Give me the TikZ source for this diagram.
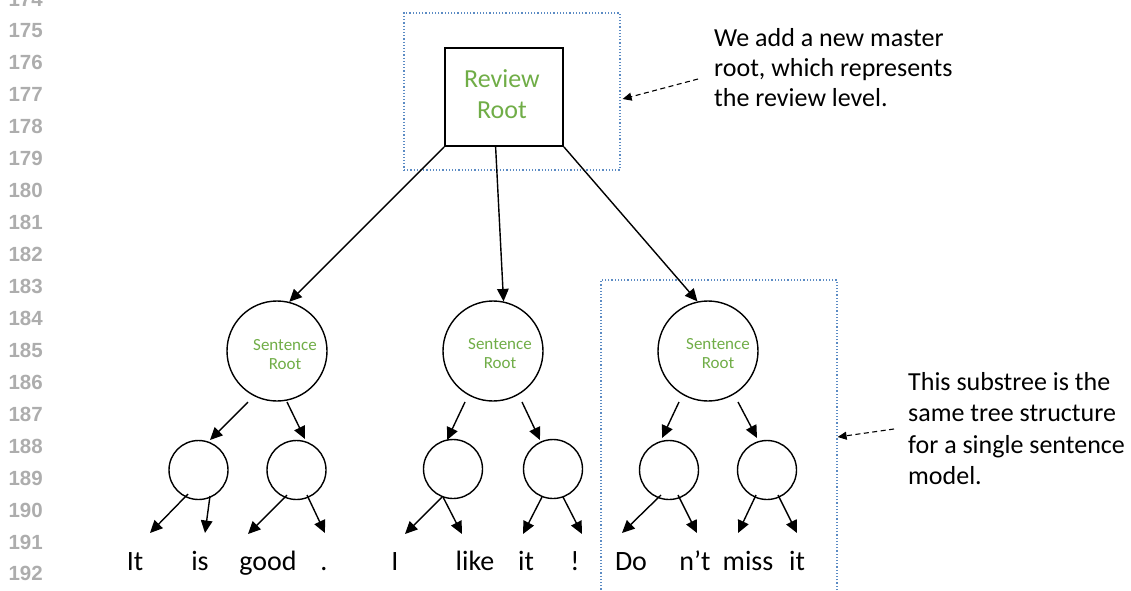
\documentclass[tikz,border=0pt]{standalone}
\usepackage{fontspec}
\setmainfont{Carlito}
\newfontfamily\numfont{Liberation Sans}
\usetikzlibrary{arrows.meta,calc}
\definecolor{rgreen}{HTML}{70AD47}
\definecolor{dotblue}{HTML}{5B8BC4}
\definecolor{lngray}{HTML}{ADADAD}
\begin{document}
\begin{tikzpicture}[x=1pt,y=-1pt,
 arr/.style={line width=1.4pt,-{Triangle[length=12.5pt,width=11.5pt]}},
 darr/.style={line width=1.1pt,dash pattern=on 5pt off 3.5pt,-{Triangle[length=9pt,width=8pt]}},
 bigc/.style={circle,draw,line width=1.4pt,minimum size=100pt,inner sep=0pt},
 smallc/.style={circle,draw,line width=1.4pt,minimum size=59pt,inner sep=0pt},
 dbox/.style={draw=dotblue,line width=1.2pt,dotted,inner sep=0pt},
 srtext/.style={text=rgreen,font=\fontsize{17}{19}\selectfont,align=center,inner sep=0pt},
 word/.style={anchor=base,font=\fontsize{28}{30}\selectfont,inner sep=0pt},
 ann/.style={align=left,anchor=north west,inner sep=0pt,font=\fontsize{26}{30}\selectfont},
 lnum/.style={anchor=east,inner sep=0pt,text=lngray,font=\numfont\bfseries\fontsize{20.5}{20.5}\selectfont}]

\useasboundingbox (0,0) rectangle (1131,590);

% line numbers
\foreach \n [count=\i from 0] in {174,...,192}
  \node[lnum] (ln\n) at (43,{-1+31.94*\i}) {\n};

% dotted boxes
\node[dbox,minimum width=216pt,minimum height=157pt] (topbox) at (512,91.5) {};
\node[dbox,minimum width=236pt,minimum height=330pt] (subbox) at (719,445) {};

% review root
\node[draw,line width=1.8pt,minimum width=118pt,minimum height=98pt,inner sep=0pt] (rr) at (504,97) {};
\node[text=rgreen,font=\fontsize{26}{31}\selectfont,align=center,inner sep=0pt] (rrt) at ([shift={(-2,-3)}]rr.center) {Review\\Root};

% sentence roots
\node[bigc] (s1) at (277,351) {};
\node[bigc] (s2) at (493,351) {};
\node[bigc] (s3) at (708,351) {};
\node[srtext] (t1) at ([shift={(8,4)}]s1.center) {Sentence\\Root};
\node[srtext] (t2) at ([shift={(7,3)}]s2.center) {Sentence\\Root};
\node[srtext] (t3) at ([shift={(10,3)}]s3.center) {Sentence\\Root};

% inner nodes
\node[smallc] (a1) at (198.5,470) {};
\node[smallc] (b1) at (296.5,470) {};
\node[smallc] (a2) at (453,469) {};
\node[smallc] (b2) at (553,469) {};
\node[smallc] (a3) at (669,470) {};
\node[smallc] (b3) at (767,470) {};

% root edges
\draw[arr] (rr.south west) -- (s1.76);
\draw[arr] ($(rr.south west)!0.43!(rr.south east)$) -- (s2.78);
\draw[arr] (rr.south east) -- (s3.102);

% sentence root -> inner
\draw[arr] ([shift={(-29,51)}]s1.center) -- ([shift={(11.5,-30)}]a1.center);
\draw[arr] ([shift={(10,51)}]s1.center) -- ([shift={(8.5,-31)}]b1.center);
\draw[arr] ([shift={(-28,51)}]s2.center) -- ([shift={(-6,-29)}]a2.center);
\draw[arr] ([shift={(29,51)}]s2.center) -- ([shift={(-13,-29)}]b2.center);
\draw[arr] ([shift={(-29,51)}]s3.center) -- ([shift={(-7,-32)}]a3.center);
\draw[arr] ([shift={(30,51)}]s3.center) -- ([shift={(-10,-32)}]b3.center);

% inner -> leaves
\draw[arr] ([shift={(-10.5,24)}]a1.center) -- ([shift={(-48.5,63)}]a1.center);
\draw[arr] ([shift={(11.5,26)}]a1.center) -- ([shift={(6.5,63)}]a1.center);
\draw[arr] ([shift={(-9.5,25)}]b1.center) -- ([shift={(-48.5,64)}]b1.center);
\draw[arr] ([shift={(10.5,25)}]b1.center) -- ([shift={(28.5,63)}]b1.center);
\draw[arr] ([shift={(-11,28)}]a2.center) -- ([shift={(-48,65)}]a2.center);
\draw[arr] ([shift={(-10,28)}]a2.center) -- ([shift={(9,65)}]a2.center);
\draw[arr] ([shift={(-11,28)}]b2.center) -- ([shift={(-30,65)}]b2.center);
\draw[arr] ([shift={(10,28)}]b2.center) -- ([shift={(29,65)}]b2.center);
\draw[arr] ([shift={(-8,25)}]a3.center) -- ([shift={(-47,63)}]a3.center);
\draw[arr] ([shift={(9,25)}]a3.center) -- ([shift={(28,63)}]a3.center);
\draw[arr] ([shift={(-11,25)}]b3.center) -- ([shift={(-29,63)}]b3.center);
\draw[arr] ([shift={(11,25)}]b3.center) -- ([shift={(30,63)}]b3.center);

% words
\node[word] (w1) at (135,570) {It};
\node[word] (w2) at (200,570) {is};
\node[word] (w3) at (268,570) {good};
\node[word] (w4) at (324,570) {.};
\node[word] (w5) at (395,570) {I};
\node[word] (w6) at (475,570) {like};
\node[word] (w7) at (526,570) {it};
\node[word] (w8) at (575,570) {!};
\node[word] (w9) at (631,570) {Do};
\node[word] (w10) at (695,570) {n’t};
\node[word] (w11) at (748,570) {miss};
\node[word] (w12) at (797,570) {it};

% annotations
\node[ann] (ann1) at (714,28) {We add a new master\\root, which represents\\the review level.};
\node[ann,font=\fontsize{26}{31.5}\selectfont] (ann2) at (908,372) {This substree is the\\same tree structure\\for a single sentence\\model.};
\coordinate (d1) at (698,79);
\coordinate (d2) at (894,429);
\draw[darr] (d1) -- ([shift={(2,7.5)}]topbox.east);
\draw[darr] (d2) -- ([shift={(0,-8)}]subbox.east);
\end{tikzpicture}
\end{document}
